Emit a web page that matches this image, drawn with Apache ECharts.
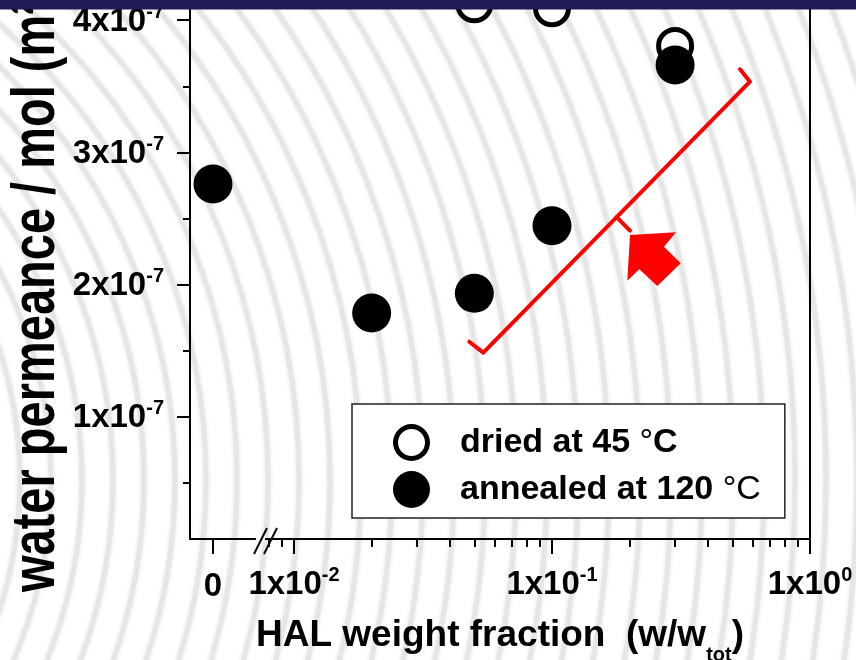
<!DOCTYPE html>
<html><head><meta charset="utf-8">
<script src="https://cdn.jsdelivr.net/npm/echarts@6/dist/echarts.min.js"></script>
<style>html,body{margin:0;padding:0;background:#fff}#c{width:856px;height:660px}</style>
</head><body><div id="c"></div>
<script>
const FONT = "'Liberation Sans', Arial, Helvetica, sans-serif";

// ---- data ----
const seriesNames = ['dried at 45 °C', 'annealed at 120 °C'];
const driedX = [0.05, 0.1, 0.3];
const driedY = [4.12e-7, 4.09e-7, 3.805e-7];
const driedErrFrom = [4.25e-7, 4.12e-7, 3.903e-7];
const driedErrTo = [4.009e-7, 3.989e-7, 3.835e-7];
const driedErrCap = [4.052e-7, 4.0015e-7, 3.835e-7];
const annealedZeroX = [0];
const annealedZeroY = [2.761e-7];
const annealedX = [0.02, 0.05, 0.1, 0.3];
const annealedY = [1.785e-7, 1.934e-7, 2.446e-7, 3.661e-7];
const bracketX = [0.04778, 0.05416, 0.5853, 0.5355];
const bracketY = [1.568e-7, 1.485e-7, 3.535e-7, 3.629e-7];
const bracketTickX = [0.1781, 0.2005];
const bracketTickY = [2.510e-7, 2.408e-7];

// ---- ticks ----
const xMajorTicks = [0.01, 0.1, 1];
const xMajorMantissa = ['1x10', '1x10', '1x10'];
const xMajorExp = ['-2', '-1', '0'];
const xMinorTicks = [0.008, 0.009, 0.02, 0.03, 0.04, 0.05, 0.06, 0.07, 0.08, 0.09, 0.2, 0.3, 0.4, 0.5, 0.6, 0.7, 0.8, 0.9];
const xZeroTicks = [0];
const xZeroLabels = ['0'];
const yMajorTicks = [1e-7, 2e-7, 3e-7, 4e-7];
const yMajorMantissa = ['1x10', '2x10', '3x10', '4x10'];
const yMajorExp = ['-7', '-7', '-7', '-7'];
const yMinorTicks = [0.5e-7, 1.5e-7, 2.5e-7, 3.5e-7];
const xLogMin = 0.003953, xLogMax = 1;
const xZeroMin = -1, xZeroMax = 25.96;
const yMin = 0.0756e-7, yMax = 4.38e-7;

const yTitle = 'water permeance / mol (m\u00B2 s Pa)\u207B\u00B9';
const xTitleMain = 'HAL weight fraction  (w/w';
const xTitleSub = 'tot';
const legendParts = [
  [['dried at 45 ', 'a0'], ['\u00B0', 'd'], ['C', 'a']],
  [['annealed at 120 ', 'a0'], ['\u00B0C', 'd']]
];

const findIdx = (arr, v) => arr.findIndex(t => Math.abs(t - v) <= Math.abs(t) * 1e-6 + 1e-15);

const chart = echarts.init(document.getElementById('c'), null, {renderer: 'canvas'});

// decoration: background arcs
const bg = [];
for (let r = 420; r < 1800; r += 31) {
  bg.push({type: 'circle', silent: true, z: -10,
    shape: {cx: -400, cy: 480, r: r},
    style: {fill: 'transparent', stroke: '#e6e6e6', lineWidth: 5, shadowBlur: 4, shadowColor: '#e6e6e6'}});
}

const ringPath = 'path://M0,18.5 A18.5,18.5 0 1,1 37,18.5 A18.5,18.5 0 1,1 0,18.5 Z M5,18.5 A13.5,13.5 0 1,0 32,18.5 A13.5,13.5 0 1,0 5,18.5 Z';

const tickStyle = {color: '#000', width: 2};
const richLab = {
  b: {fontSize: 33, fontWeight: 'bold', fontFamily: FONT, color: '#000', lineHeight: 36, verticalAlign: 'bottom'},
  s: {fontSize: 20, fontWeight: 'bold', fontFamily: FONT, color: '#000', lineHeight: 20, verticalAlign: 'top'}
};

const option = {
  backgroundColor: '#fff',
  animation: false,
  grid: {left: 190, right: 46, top: -30, bottom: 121, containLabel: false, outerBoundsMode: 'none',
    show: true, borderColor: '#000', borderWidth: 2, backgroundColor: 'transparent'},
  xAxis: [
    { // main log axis
      type: 'log', logBase: 10, min: xLogMin, max: xLogMax, position: 'bottom', gridIndex: 0,
      axisLine: {show: true, onZero: false, lineStyle: {color: '#000', width: 2}},
      axisTick: {show: true, customValues: xMajorTicks, length: 15, lineStyle: tickStyle},
      axisLabel: {show: true, customValues: xMajorTicks, margin: 26,
        formatter: v => { const i = findIdx(xMajorTicks, v); return i < 0 ? '' : '{b|' + xMajorMantissa[i] + '}{s|' + xMajorExp[i] + '}'; },
        rich: richLab},
      splitLine: {show: false}, minorTick: {show: false},
      name: '{t|' + xTitleMain + '}{u|' + xTitleSub + '}{t|)}', nameLocation: 'middle', nameGap: 78,
      nameTextStyle: {rich: {
        t: {fontSize: 37, fontWeight: 'bold', fontFamily: FONT, color: '#000', lineHeight: 40, verticalAlign: 'top'},
        u: {fontSize: 20, fontWeight: 'bold', fontFamily: FONT, color: '#000', lineHeight: 20, verticalAlign: 'top', padding: [28, 0, 0, 0]}
      }}
    },
    { // minor ticks
      type: 'log', logBase: 10, min: xLogMin, max: xLogMax, position: 'bottom', gridIndex: 0,
      axisLine: {show: false, onZero: false}, axisLabel: {show: false}, splitLine: {show: false},
      axisTick: {show: true, customValues: xMinorTicks, length: 8, lineStyle: tickStyle}
    },
    { // linear segment for the zero point
      type: 'value', min: xZeroMin, max: xZeroMax, position: 'bottom', gridIndex: 0,
      axisLine: {show: false, onZero: false}, splitLine: {show: false},
      axisTick: {show: true, customValues: xZeroTicks, length: 15, lineStyle: tickStyle},
      axisLabel: {show: true, customValues: xZeroTicks, margin: 28,
        formatter: v => { const i = findIdx(xZeroTicks, v); return i < 0 ? '' : '{b|' + xZeroLabels[i] + '}'; },
        rich: richLab}
    }
  ],
  yAxis: [
    {
      type: 'value', min: yMin, max: yMax, position: 'left', gridIndex: 0,
      axisLine: {show: true, onZero: false, lineStyle: {color: '#000', width: 2}},
      axisTick: {show: true, customValues: yMajorTicks, length: 13, lineStyle: tickStyle},
      axisLabel: {show: true, customValues: yMajorTicks, margin: 26,
        formatter: v => { const i = findIdx(yMajorTicks, v); return i < 0 ? '' : '{b|' + yMajorMantissa[i] + '}{s|' + yMajorExp[i] + '}'; },
        rich: richLab},
      splitLine: {show: false}
    },
    {
      type: 'value', min: yMin, max: yMax, position: 'left', gridIndex: 0,
      axisLine: {show: false, onZero: false}, axisLabel: {show: false}, splitLine: {show: false},
      axisTick: {show: true, customValues: yMinorTicks, length: 7, lineStyle: tickStyle}
    }
  ],
  legend: {
    data: [
      {name: seriesNames[0], icon: ringPath, itemStyle: {color: '#000', borderWidth: 0}},
      {name: seriesNames[1], icon: 'circle', itemStyle: {color: '#000', borderWidth: 0}}
    ],
    orient: 'vertical', left: 352, top: 404, itemWidth: 37, itemHeight: 37, itemGap: 10,
    padding: [20, 24, 10, 41], backgroundColor: '#fff', borderColor: '#222', borderWidth: 1.5,
    selectedMode: false,
    formatter: name => {
      const parts = legendParts[seriesNames.indexOf(name)];
      return parts.map(p => '{' + p[1] + '|' + p[0] + '}').join('');
    },
    textStyle: {rich: {
      a0: {fontSize: 34, fontWeight: 'bold', fontFamily: FONT, color: '#000', padding: [0, 0, 0, 25]},
      a: {fontSize: 34, fontWeight: 'bold', fontFamily: FONT, color: '#000'},
      d: {fontSize: 34, fontWeight: 'normal', fontFamily: FONT, color: '#000'}
    }}
  },
  series: [
    {
      name: seriesNames[0], type: 'scatter', xAxisIndex: 0, yAxisIndex: 0,
      symbol: 'circle', symbolSize: 33,
      itemStyle: {color: '#fff', borderColor: '#000', borderWidth: 5, opacity: 1},
      data: driedX.map((x, i) => [x, driedY[i]])
    },
    {
      name: 'dried-err', type: 'custom', xAxisIndex: 0, yAxisIndex: 0,
      encode: {x: 0, y: [1, 2, 3]},
      data: driedX.map((x, i) => [x, driedErrFrom[i], driedErrTo[i], driedErrCap[i]]),
      renderItem: (params, api) => {
        const x = api.value(0);
        const p1 = api.coord([x, api.value(1)]);
        const p2 = api.coord([x, api.value(2)]);
        const pc = api.coord([x, api.value(3)]);
        const hw = 13;
        return {type: 'group', children: [
          {type: 'line', shape: {x1: p1[0], y1: p1[1], x2: p2[0], y2: p2[1]}, style: {stroke: '#000', lineWidth: 2}},
          {type: 'line', shape: {x1: pc[0] - hw, y1: pc[1], x2: pc[0] + hw, y2: pc[1]}, style: {stroke: '#000', lineWidth: 2}}
        ]};
      }
    },
    {
      name: seriesNames[1], type: 'scatter', xAxisIndex: 0, yAxisIndex: 0,
      symbol: 'circle', symbolSize: 39, itemStyle: {color: '#000', opacity: 1},
      data: annealedX.map((x, i) => [x, annealedY[i]])
    },
    {
      name: seriesNames[1], type: 'scatter', xAxisIndex: 2, yAxisIndex: 0,
      symbol: 'circle', symbolSize: 39, itemStyle: {color: '#000', opacity: 1},
      data: annealedZeroX.map((x, i) => [x, annealedZeroY[i]])
    },
    {
      name: 'bracket', type: 'line', xAxisIndex: 0, yAxisIndex: 0, symbol: 'none',
      lineStyle: {color: '#ff0000', width: 4, cap: 'round', join: 'round'},
      data: bracketX.map((x, i) => [x, bracketY[i]])
    },
    {
      name: 'bracket-tick', type: 'line', xAxisIndex: 0, yAxisIndex: 0, symbol: 'none',
      lineStyle: {color: '#ff0000', width: 4, cap: 'round'},
      data: bracketTickX.map((x, i) => [x, bracketTickY[i]])
    }
  ],
  graphic: bg.concat([
    { // axis break
      type: 'polygon', silent: true, z: 50,
      shape: {points: [[257, 536], [266, 536], [264, 542], [255, 542]]},
      style: {fill: '#fff'}
    },
    {type: 'line', silent: true, z: 51, shape: {x1: 254, y1: 554, x2: 267, y2: 528}, style: {stroke: '#000', lineWidth: 2}},
    {type: 'line', silent: true, z: 51, shape: {x1: 264, y1: 554, x2: 277, y2: 528}, style: {stroke: '#000', lineWidth: 2}},
    { // red arrow
      type: 'polygon', silent: true, z: 50,
      shape: {points: [[630, 235], [676, 232.3], [664, 246.7], [680.7, 263.3], [657.3, 286], [639.3, 269.3], [627.3, 280.7]]},
      style: {fill: '#ff0000'}
    },
    { // y axis title
      type: 'text', silent: true, z: 50, x: 37, y: 592, rotation: Math.PI / 2, scaleY: 1.3,
      style: {text: yTitle, font: 'bold 47px ' + FONT, fill: '#000', align: 'left', verticalAlign: 'middle'}
    },
    { // top bar
      type: 'rect', silent: true, z: 100,
      shape: {x: 0, y: 0, width: 856, height: 9.5},
      style: {fill: '#211b55'}
    }
  ])
};
chart.setOption(option);
</script>
</body></html>
